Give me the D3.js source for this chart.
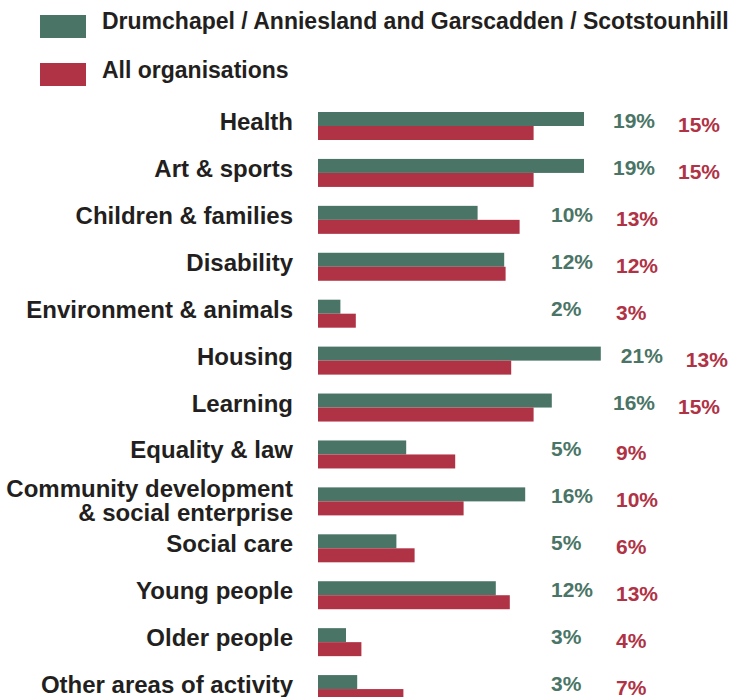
<!DOCTYPE html>
<html>
<head>
<meta charset="utf-8">
<script src="https://cdn.jsdelivr.net/npm/d3@7"></script>
<style>
  body { margin: 0; background: #fff; }
  text { font-family: "Liberation Sans", Arial, sans-serif; font-weight: bold; }
</style>
</head>
<body>
<svg width="731" height="697"></svg>
<script>
const categories = [
  ["Health"], ["Art & sports"], ["Children & families"], ["Disability"],
  ["Environment & animals"], ["Housing"], ["Learning"], ["Equality & law"],
  ["Community development", "& social enterprise"], ["Social care"],
  ["Young people"], ["Older people"], ["Other areas of activity"]
];
const seriesNames = ["Drumchapel / Anniesland and Garscadden / Scotstounhill", "All organisations"];
// bar lengths as drawn in the picture (percent)
const localValues = [19.0, 19.0, 11.4, 13.3, 1.6, 20.2, 16.7, 6.3, 14.8, 5.6, 12.7, 2.0, 2.8];
const allValues = [15.4, 15.4, 14.4, 13.4, 2.7, 13.8, 15.4, 9.8, 10.4, 6.9, 13.7, 3.1, 6.1];
// printed percentages
const localLabels = ["19%", "19%", "10%", "12%", "2%", "21%", "16%", "5%", "16%", "5%", "12%", "3%", "3%"];
const allLabels = ["15%", "15%", "13%", "12%", "3%", "13%", "15%", "9%", "10%", "6%", "13%", "4%", "7%"];

const green = "#4a7566";
const red = "#b03245";
const dark = "#231f20";

const svg = d3.select("svg");

const x = d3.scaleLinear().domain([0, 25]).range([318, 668]);
const y = d3.scaleBand().domain(d3.range(categories.length)).range([112, 722]).padding(0);
const barH = 14;

// legend
const legend = svg.append("g");
[green, red].forEach((c, i) => {
  legend.append("rect")
    .attr("x", 40).attr("y", 15 + i * 48)
    .attr("width", 46).attr("height", 23)
    .attr("fill", c);
  legend.append("text")
    .attr("x", 102).attr("y", 29 + i * 49)
    .attr("font-size", 23)
    .attr("fill", dark)
    .text(seriesNames[i]);
});

const rows = svg.selectAll(".row")
  .data(d3.range(categories.length))
  .join("g")
  .attr("class", "row");

rows.append("rect")
  .attr("x", x(0))
  .attr("y", i => y(i))
  .attr("width", i => x(localValues[i]) - x(0))
  .attr("height", barH)
  .attr("fill", green);

rows.append("rect")
  .attr("x", x(0))
  .attr("y", i => y(i) + barH)
  .attr("width", i => x(allValues[i]) - x(0))
  .attr("height", barH)
  .attr("fill", red);

// category labels
rows.append("text")
  .attr("text-anchor", "end")
  .attr("font-size", 24)
  .attr("fill", dark)
  .each(function(i) {
    const lines = categories[i];
    const base = lines.length > 1 ? y(i) + barH - 4 : y(i) + barH + 4;
    d3.select(this).selectAll("tspan")
      .data(lines)
      .join("tspan")
      .attr("x", 293)
      .attr("y", (d, k) => base + k * 24)
      .text(d => d);
  });

function labelX(i) {
  const end = x(localValues[i]);
  return end > 540 ? Math.max(613, end + 20) : 551;
}

rows.append("text")
  .attr("x", labelX)
  .attr("y", i => y(i) + 16)
  .attr("font-size", 21)
  .attr("fill", green)
  .text(i => localLabels[i]);

rows.append("text")
  .attr("x", i => labelX(i) + 65)
  .attr("y", i => y(i) + 20)
  .attr("font-size", 21)
  .attr("fill", red)
  .text(i => allLabels[i]);
</script>
</body>
</html>
